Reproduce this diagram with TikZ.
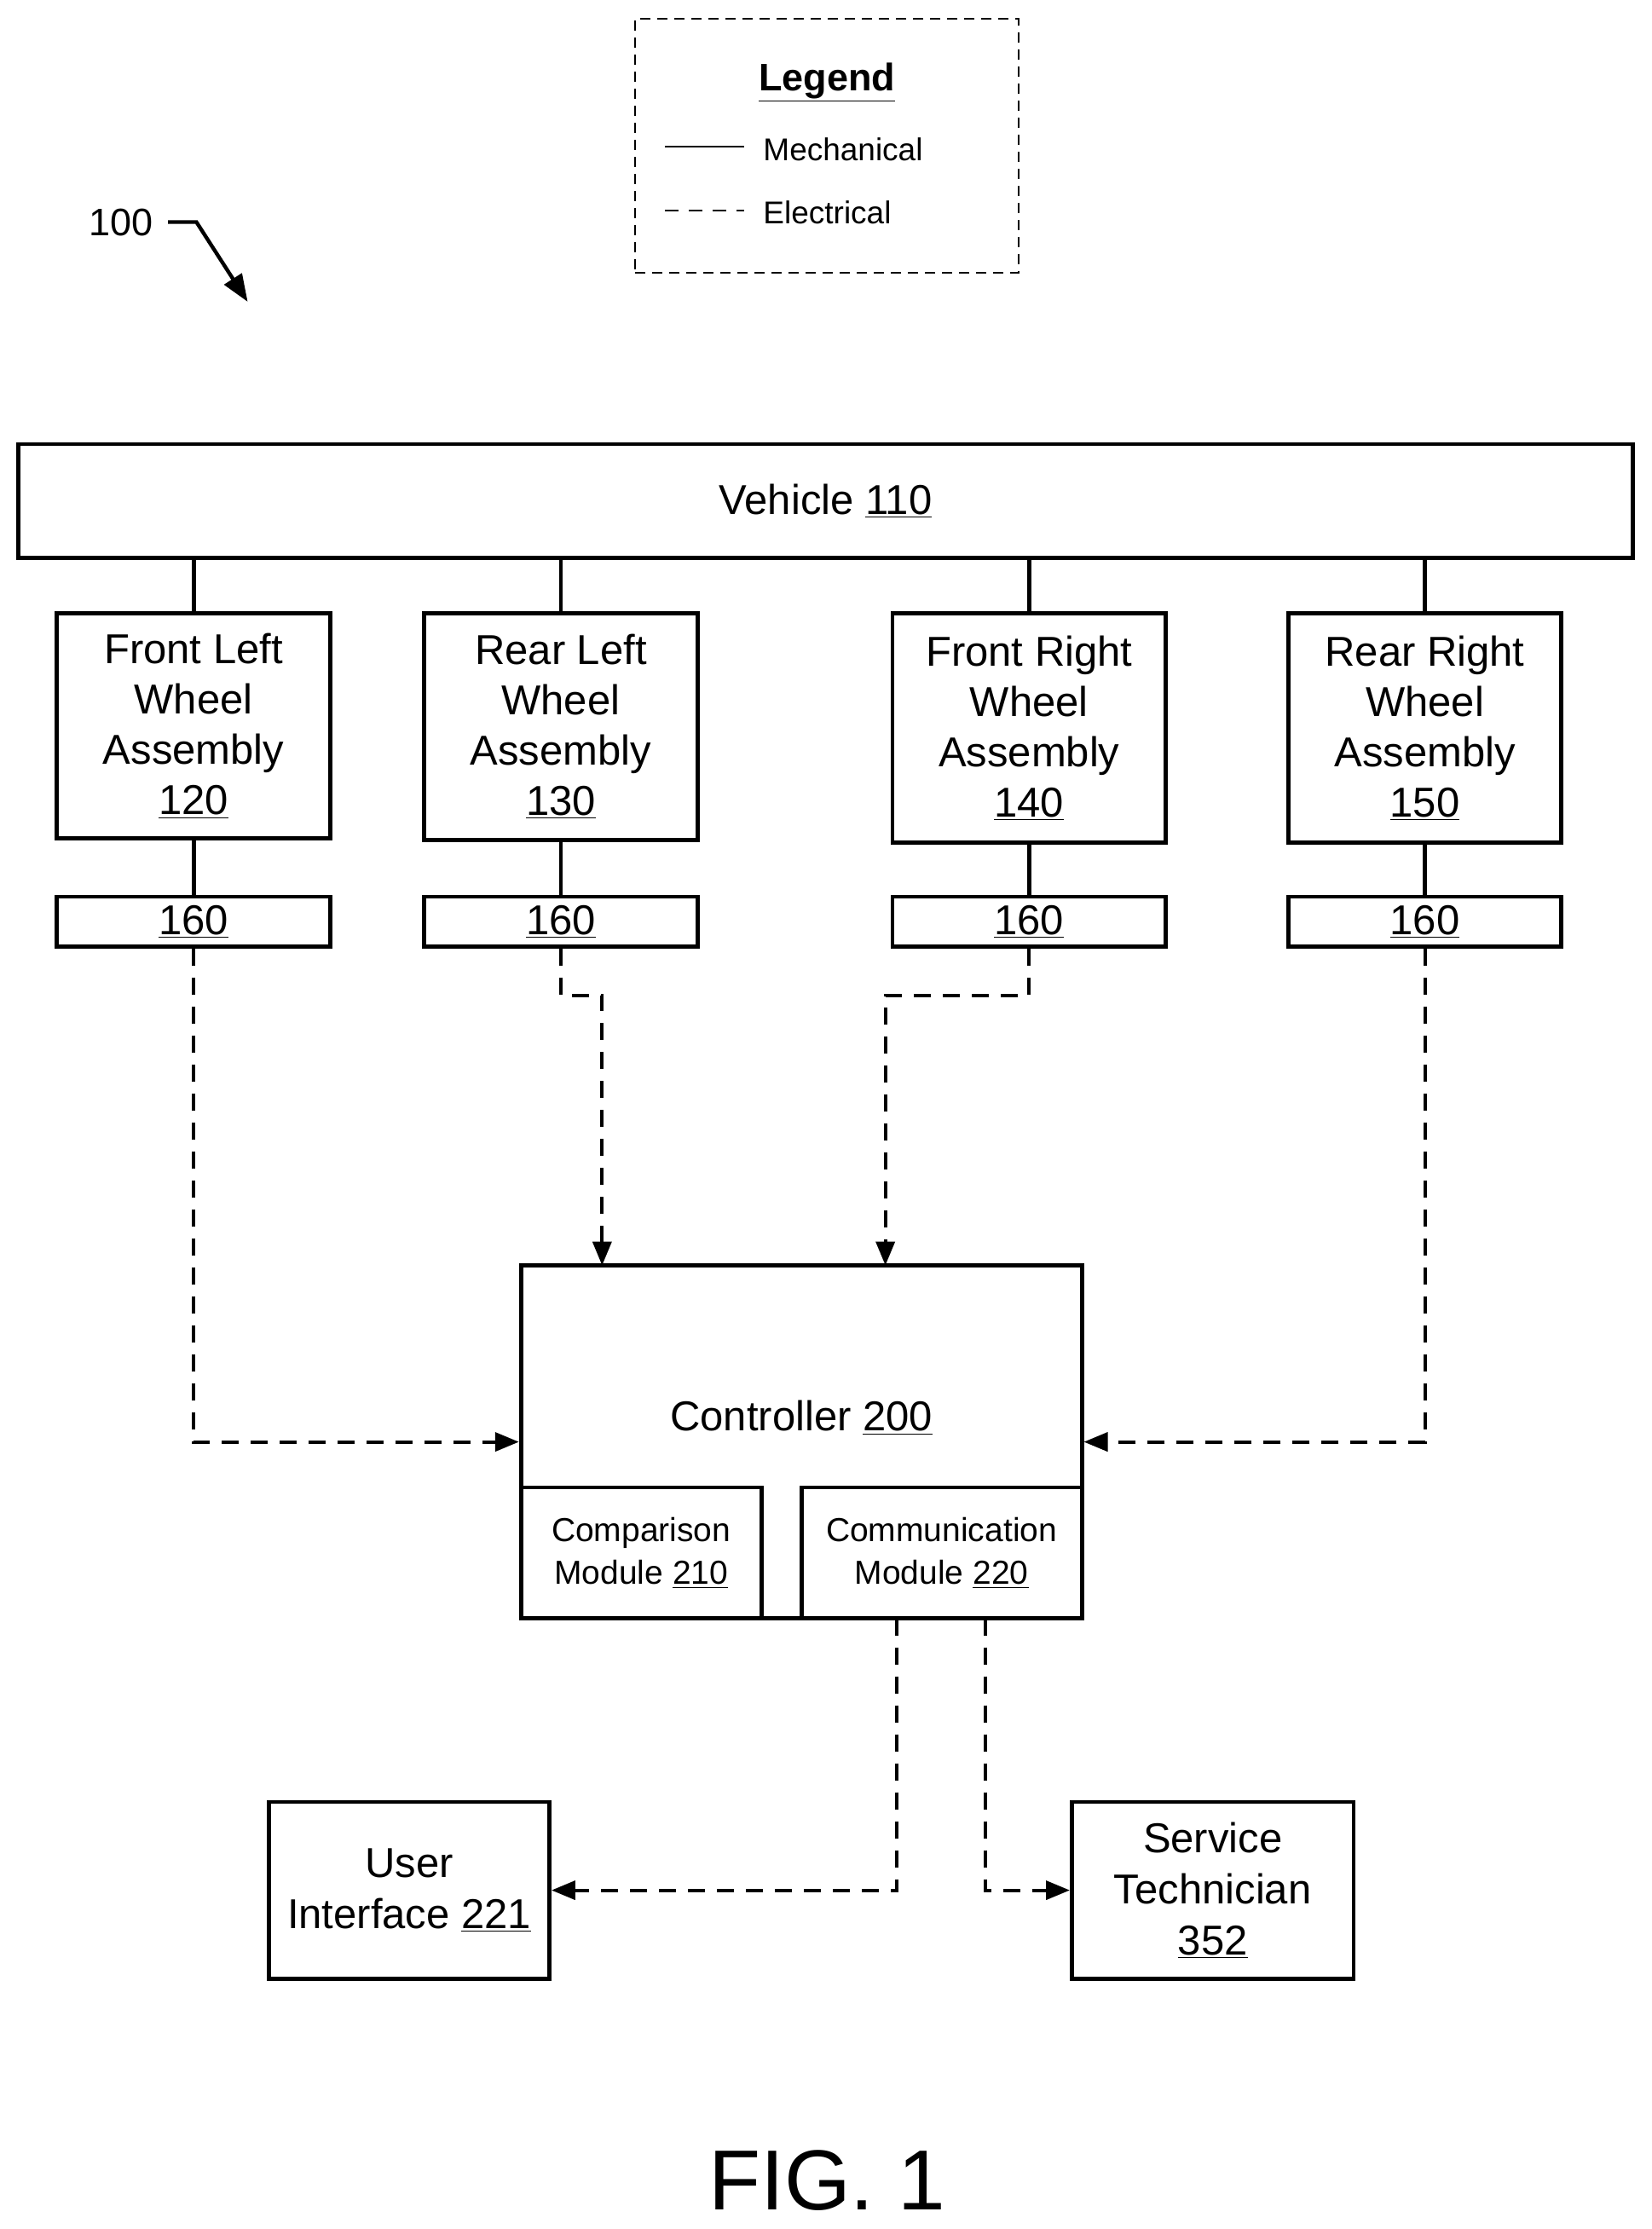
\documentclass[tikz,border=0pt]{standalone}
\usepackage{fontspec}
\setmainfont{Liberation Sans}
\usetikzlibrary{arrows.meta,calc}
\begin{document}
\begin{tikzpicture}[x=0.835pt,y=-0.835pt,
  box/.style={draw,line width=2.4pt,inner sep=0pt,align=center},
  mod/.style={box},
  mech/.style={line width=2.4pt},
  elec/.style={line width=2pt,dash pattern=on 10pt off 7pt},
  arr/.style={elec,-{Triangle[length=14pt,width=11pt]}}]
\useasboundingbox (0,0) rectangle (1160,1566);
\def\bx#1#2#3#4#5#6{\node[#6,minimum width=(#4-#2)*0.835pt,minimum height=(#5-#3)*0.835pt] (#1) at ({(#2+#4)/2},{(#3+#5)/2}) {};}
% legend
\node[draw,line width=1.2pt,dash pattern=on 6pt off 4pt,minimum width=225pt,minimum height=149pt] (leg) at (581,102.5) {};
\node[font=\bfseries\fontsize{22.5}{26}\selectfont] (legt) at (581,58) {\underline{Legend}};
\coordinate (m1) at (467,103); \coordinate (m2) at (523,103);
\coordinate (e1) at (467,148); \coordinate (e2) at (523,148);
\draw[line width=1.2pt] (m1)--(m2);
\draw[line width=1.2pt,dash pattern=on 8pt off 6pt] (e1)--(e2);
\node[anchor=west,font=\fontsize{18.5}{20}\selectfont] (lm) at (532,105) {Mechanical};
\node[anchor=west,font=\fontsize{18.5}{20}\selectfont] (le) at (532,149) {Electrical};
% 100
\node[font=\fontsize{22.5}{25}\selectfont] (n100) at (85,156) {100};
\coordinate (a1) at (118,156); \coordinate (a2) at (138,156); \coordinate (a3) at (174,212);
\draw[line width=2.2pt,-{Triangle[length=16pt,width=12pt]}] (a1)--(a2)--(a3);
% boxes
\bx{veh}{13}{312}{1147}{392}{box}
\node[font=\fontsize{24.5}{27}\selectfont] at (veh) {Vehicle \underline{110}};
\bx{fl}{40}{431}{232}{589}{box}
\bx{rl}{298}{431}{490}{590}{box}
\bx{fr}{627}{431}{819}{592}{box}
\bx{rr}{905}{431}{1097}{592}{box}
\node[align=center,font=\fontsize{24.5}{29.5}\selectfont] at (fl) {Front Left\\Wheel\\Assembly\\\underline{120}};
\node[align=center,font=\fontsize{24.5}{29.5}\selectfont] at (rl) {Rear Left\\Wheel\\Assembly\\\underline{130}};
\node[align=center,font=\fontsize{24.5}{29.5}\selectfont] at (fr) {Front Right\\Wheel\\Assembly\\\underline{140}};
\node[align=center,font=\fontsize{24.5}{29.5}\selectfont] at (rr) {Rear Right\\Wheel\\Assembly\\\underline{150}};
\foreach \n/\a/\b in {fls/40/232,rls/298/490,frs/627/819,rrs/905/1097}{
  \bx{\n}{\a}{630}{\b}{665}{box}
  \node[font=\fontsize{24.5}{27}\selectfont] at (\n) {\underline{160}};}
\foreach \w/\s in {fl/fls,rl/rls,fr/frs,rr/rrs}{
  \draw[mech] (veh.south -| \w.north) -- (\w.north);
  \draw[mech] (\w.south) -- (\s.north);}
% controller
\bx{ctrl}{366}{889}{760}{1137}{box}
\node[font=\fontsize{24.5}{27}\selectfont] at (563,996) {Controller \underline{200}};
\bx{cmp}{366}{1045}{535}{1137}{mod}
\bx{com}{563}{1045}{760}{1137}{mod}
\node[align=center,font=\fontsize{19.5}{25}\selectfont] at (cmp) {Comparison\\Module \underline{210}};
\node[align=center,font=\fontsize{19.5}{25}\selectfont] at (com) {Communication\\Module \underline{220}};
\bx{ui}{189}{1266}{386}{1390}{box}
\bx{st}{753}{1266}{951}{1390}{box}
\node[align=center,font=\fontsize{24.5}{30}\selectfont] at (ui) {User\\Interface \underline{221}};
\node[align=center,font=\fontsize{24.5}{30}\selectfont] at (st) {Service\\Technician\\\underline{352}};
% electrical
\draw[arr] (fls.south) |- (ctrl.west);
\draw[arr] (rrs.south) |- (ctrl.east);
\coordinate (b1) at (423,889); \coordinate (b2) at (622,889);
\draw[arr] (rls.south) -- ++(0,33) -| (b1);
\draw[arr] (frs.south) -- ++(0,33) -| (b2);
\coordinate (c1) at (630,1137); \coordinate (c2) at (692,1137);
\draw[arr] (c1) |- (ui.east |- 0,1328);
\draw[arr] (c2) |- (st.west |- 0,1328);
\node[font=\fontsize{50}{58}\selectfont,inner sep=0pt] (fig) at (581,1532) {FIG. 1};
\end{tikzpicture}
\end{document}
